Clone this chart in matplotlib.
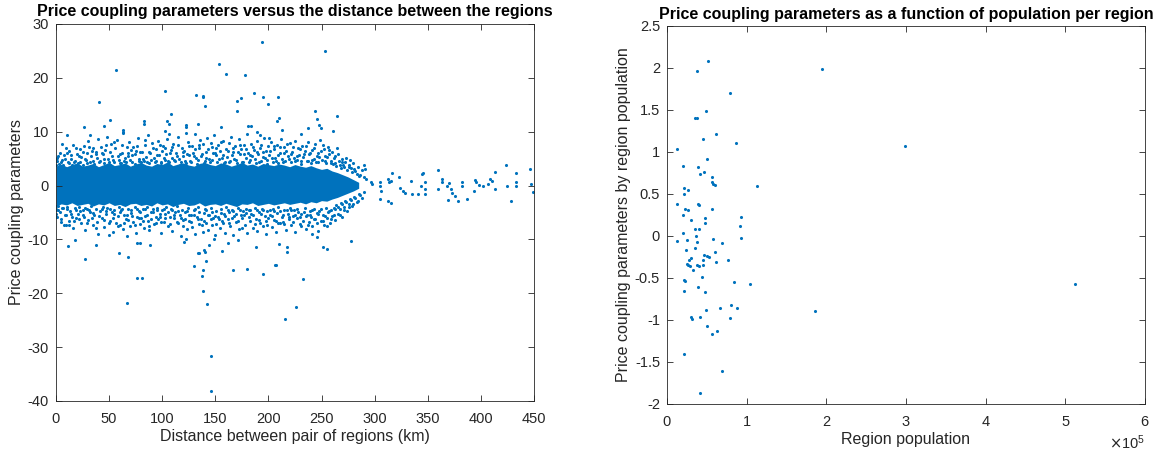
import numpy as np
import matplotlib.pyplot as plt
from matplotlib.ticker import FuncFormatter, ScalarFormatter

plt.rcParams['font.family'] = ['Liberation Sans', 'DejaVu Sans']
plt.rcParams['axes.unicode_minus'] = False

BLUE = '#0072BD'
GRID = '#262626'

# ---- left panel: distance vs coupling parameter ----
# dense core of the cloud (read as an envelope every 5 km)
core_x = [0, 5, 10, 15, 20, 25, 30, 35, 40, 45, 50, 55, 60, 65, 70, 75, 80, 85, 90, 95,
          100, 105, 110, 115, 120, 125, 130, 135, 140, 145, 150, 155, 160, 165, 170, 175,
          180, 185, 190, 195, 200, 205, 210, 215, 220, 225, 230, 235, 240, 245, 250, 255,
          260, 265, 270, 275, 280, 285]
core_hi = [3.6, 4.0, 3.5, 3.9, 4.2, 3.6, 3.8, 4.1, 3.5, 3.9,
           4.3, 3.7, 3.9, 4.2, 3.6, 4.0, 4.3, 3.8, 3.6, 4.1,
           3.9, 4.4, 3.7, 4.0, 4.2, 3.8, 3.6, 4.1, 4.3, 3.9,
           3.7, 4.2, 4.0, 3.6, 3.9, 4.3, 3.8, 4.0, 3.6, 4.1,
           3.9, 3.7, 4.0, 3.8, 3.5, 3.9, 3.6, 3.4, 3.7, 3.3,
           3.0, 3.2, 2.7, 2.4, 2.0, 1.6, 1.1, 0.6]
core_lo = [-3.8, -3.4, -3.6, -3.2, -3.7, -3.5, -3.3, -3.8, -3.4, -3.6,
           -3.2, -3.7, -3.5, -3.9, -3.4, -3.3, -3.7, -3.5, -3.8, -3.2,
           -3.6, -3.4, -3.9, -3.5, -3.3, -3.7, -3.6, -3.2, -3.8, -3.5,
           -3.4, -3.7, -3.3, -3.6, -3.9, -3.4, -3.5, -3.2, -3.7, -3.5,
           -3.3, -3.6, -3.4, -3.2, -3.5, -3.3, -3.1, -3.4, -3.0, -3.2,
           -2.8, -2.9, -2.5, -2.2, -1.8, -1.4, -1.0, -0.5]

upper_halo = [
    (0, 4.6), (0, 3.9), (0.3, 5.0), (1, 4.5), (1, 5.2), (2.5, 4.0), (4, 6.1), (5.5, 4.8), (7, 3.9), (8, 5.6),
    (9.5, 7.0), (11, 4.3), (12.5, 6.4), (14, 5.0), (15, 3.8), (16.5, 7.6), (18, 4.6), (19.5, 5.9),
    (21, 4.1), (22.5, 6.8), (24, 5.3), (25, 3.9), (26.5, 7.4), (28, 4.7), (29, 6.0), (30.5, 8.2), (32, 4.4),
    (33, 5.5), (34.5, 7.0), (36, 4.0), (37.5, 6.3), (39, 5.1), (40, 8.6),
    (41, 4.6), (42.5, 7.2), (44, 5.8), (45, 4.2), (46.5, 6.6), (48, 9.0), (49, 5.0), (50.5, 3.9), (52, 7.8),
    (53, 5.4), (54.5, 4.3), (56, 6.9), (57.5, 8.4), (59, 4.8), (60, 5.9),
    (61, 4.1), (62, 7.5), (63.5, 9.8), (65, 5.2), (66, 4.4), (67.5, 6.1), (69, 8.0), (70, 4.7), (71.5, 5.6),
    (73, 7.1), (74, 4.0), (75.5, 6.5), (77, 8.9), (78.5, 5.0), (80, 4.3),
    (81, 6.3), (82.5, 4.6), (84, 7.6), (85, 5.3), (86.5, 9.4), (88, 4.2), (89, 6.0), (90.5, 7.9), (92, 5.1),
    (93, 4.4), (94.5, 6.8), (96, 8.3), (97, 5.7), (98.5, 4.1), (100, 6.5),
    (101, 7.4), (102.5, 4.8), (104, 5.9), (105, 8.7), (106.5, 4.3), (108, 6.6), (109, 5.2), (110.5, 7.8),
    (112, 4.5), (113, 6.1), (114.5, 9.1), (116, 5.0), (117, 3.9), (118.5, 7.0), (120, 5.5),
    (121, 6.4), (122.5, 4.2), (124, 8.1), (125, 5.7), (126.5, 4.6), (128, 7.3), (129, 6.0), (130.5, 9.6),
    (132, 5.1), (133, 4.0), (134.5, 6.9), (136, 8.4), (137, 5.4), (138.5, 7.7), (140, 4.5),
    (141, 6.2), (142.5, 8.9), (144, 5.0), (145, 4.3), (146.5, 7.1), (148, 6.0), (149, 9.3), (150.5, 5.6),
    (152, 4.4), (153, 7.6), (154.5, 6.5), (156, 5.2), (157, 8.2), (158.5, 4.1), (160, 6.8),
    (161, 5.3), (162.5, 7.9), (164, 4.6), (165, 9.0), (166.5, 6.2), (168, 5.0), (169, 7.3), (170.5, 4.2),
    (172, 8.6), (173, 5.8), (174.5, 6.7), (176, 4.4), (177, 7.5), (178.5, 5.2), (180, 9.5),
    (181, 6.0), (182.5, 4.7), (184, 7.8), (185, 5.4), (186.5, 6.6), (188, 4.2), (189, 8.2), (190.5, 5.9),
    (192, 7.0), (193, 4.5), (194.5, 6.3), (196, 8.8), (197, 5.1), (198.5, 4.0), (200, 7.3),
    (201, 5.6), (202.5, 8.0), (204, 4.4), (205, 6.8), (206.5, 5.2), (208, 7.6), (209, 4.1), (210.5, 6.0),
    (212, 8.7), (213, 5.0), (214.5, 7.1), (216, 4.6), (217, 6.4), (218.5, 5.5), (220, 7.9),
    (221, 4.3), (222.5, 6.2), (224, 5.1), (225, 8.3), (226.5, 4.7), (228, 6.9), (229, 5.6), (230.5, 4.0),
    (232, 7.4), (233, 5.3), (234.5, 6.5), (236, 4.5), (237, 8.0), (238.5, 5.8), (240, 4.2),
    (241, 6.6), (242.5, 5.0), (244, 7.7), (245, 4.4), (246.5, 6.1), (248, 5.3), (249, 8.5), (250.5, 4.7),
    (252, 6.8), (253, 5.5), (254.5, 4.2), (256, 7.2), (257, 5.9), (258.5, 4.6), (260, 6.3),
    (261, 4.0), (262.5, 5.4), (264, 3.6), (265, 7.0), (266.5, 4.5), (268, 3.2), (269, 5.0), (270.5, 3.8),
    (272, 4.4), (274, 2.9), (275.5, 3.5), (277, 4.8), (279, 2.6), (281, 3.1), (283, 2.2), (285, 1.8),
]

upper_halo2 = [
    (2, 5.5), (4.5, 4.4), (6, 7.8), (8.5, 4.9), (10, 6.0), (12, 4.2), (14.5, 5.6), (17, 4.4), (19, 6.9),
    (21.5, 5.4), (23, 4.3), (25.5, 6.2), (27, 5.0), (29.5, 4.2), (31, 7.1), (33.5, 6.4), (35, 4.6), (38, 5.8),
    (40.5, 4.3), (43, 6.1), (45.5, 5.0), (47, 7.6), (49.5, 4.4), (51, 6.3), (53.5, 4.7), (55, 8.0), (58, 5.5),
    (60.5, 4.2), (62.5, 6.0), (64, 4.5), (66.5, 7.2), (68, 5.4), (70.5, 6.6), (72, 4.3), (74.5, 5.8), (76, 7.4),
    (78, 4.6), (79.5, 6.2), (82, 5.0), (83.5, 8.4), (86, 4.4), (87.5, 6.3), (89.5, 4.8), (91.5, 7.0), (94, 4.5),
    (95.5, 5.7), (97.5, 7.5), (99, 4.3), (101.5, 5.2), (103, 7.0), (105.5, 4.5), (107, 6.0), (109.5, 7.2),
    (111, 4.8), (113.5, 5.5), (115, 7.6), (117.5, 4.4), (119.5, 6.2), (121.5, 4.6), (123, 5.9), (125.5, 7.4),
    (127, 4.3), (129.5, 5.4), (131, 6.8), (133.5, 4.8), (135, 7.6), (137.5, 5.9), (139, 4.2), (141.5, 5.1),
    (143, 6.8), (145.5, 7.9), (147, 4.7), (149.5, 6.1), (151, 7.0), (153.5, 4.9), (155, 8.0), (157.5, 5.6),
    (159, 4.4), (161.5, 6.5), (163, 4.3), (165.5, 5.7), (167, 7.0), (169.5, 4.8), (171, 6.2), (173.5, 7.6),
    (175, 4.4), (177.5, 5.9), (179, 6.8), (181.5, 4.4), (183, 5.6), (185.5, 7.1), (187, 5.0), (189.5, 6.2),
    (191, 4.4), (193.5, 7.6), (195, 5.3), (197.5, 6.4), (199, 4.7), (201.5, 6.5), (203, 5.1), (205.5, 7.4),
    (207, 4.6), (209.5, 5.7), (211, 7.2), (213.5, 4.3), (215, 6.0), (217.5, 7.8), (219, 4.9), (221.5, 5.8),
    (223, 7.1), (225.5, 4.6), (227, 5.5), (229.5, 6.8), (231, 4.5), (233.5, 5.9), (235, 7.3), (237.5, 4.6),
    (239, 6.1), (241.5, 4.8), (243, 6.9), (245.5, 5.5), (247, 4.3), (249.5, 6.4), (251, 7.6), (253.5, 4.6),
    (255, 5.3), (257.5, 6.6), (259, 4.2), (261.5, 5.2), (263, 4.1), (265.5, 5.9), (267, 3.8), (269.5, 4.4),
    (271, 3.4), (273, 5.2), (276, 3.8), (278, 3.2), (280, 4.1), (282, 2.7), (284, 3.5), (286, 2.0),
    (288, 2.8), (290, 1.5),
]

lower_halo = [
    (0, -4.5), (0, -3.8), (0.3, -5.2), (0.5, -4.3), (1, -5.9), (2, -3.8), (3.5, -5.0), (5, -6.3), (6.5, -4.2),
    (8, -7.3), (9, -5.4), (10.5, -3.9), (12, -6.6), (13.5, -4.7), (15, -5.8), (16, -7.8), (17.5, -4.1), (19, -6.0),
    (20.5, -5.2), (22, -3.9), (23.5, -7.0), (25, -4.6), (26, -5.8), (27.5, -8.2), (29, -4.3), (30.5, -6.4),
    (32, -5.0), (33, -3.8), (34.5, -7.4), (36, -5.5), (37.5, -4.4), (39, -6.7), (40, -9.0),
    (41.5, -4.8), (43, -6.0), (44, -3.9), (45.5, -7.7), (47, -5.3), (48.5, -4.2), (50, -9.2), (51, -6.5),
    (52.5, -5.0), (54, -8.6), (55, -4.5), (56.5, -6.9), (58, -5.7), (59, -3.9), (60, -7.3),
    (61.5, -4.6), (63, -8.1), (64, -5.4), (65.5, -6.2), (67, -9.4), (68, -4.3), (69.5, -7.6), (71, -5.1),
    (72.5, -6.8), (74, -4.0), (75, -8.8), (76.5, -5.9), (78, -4.7), (79, -7.1), (80, -6.0),
    (81.5, -4.4), (83, -7.9), (84, -5.6), (85.5, -3.9), (87, -6.5), (88, -8.3), (89.5, -5.0), (91, -4.3),
    (92.5, -7.2), (94, -5.8), (95, -4.1), (96.5, -6.3), (98, -5.2), (99, -8.9), (100, -4.6),
    (101.5, -6.7), (103, -5.3), (104, -4.0), (105.5, -7.5), (107, -5.9), (108, -4.4), (109.5, -8.4),
    (111, -6.1), (112.5, -4.9), (114, -3.8), (115, -7.0), (116.5, -5.5), (118, -9.3), (119, -4.5), (120, -6.4),
    (121.5, -5.0), (123, -8.0), (124, -4.2), (125.5, -6.6), (127, -5.4), (128, -7.7), (129.5, -4.6),
    (131, -9.0), (132.5, -5.8), (134, -4.0), (135, -7.1), (136.5, -6.2), (138, -8.6), (139, -5.1), (140, -4.3),
    (141.5, -6.9), (143, -8.3), (144, -5.5), (145.5, -4.1), (147, -7.4), (148, -6.0), (149.5, -9.2),
    (151, -4.8), (152.5, -5.9), (154, -7.8), (155, -4.4), (156.5, -6.5), (158, -5.2), (159, -8.8), (160, -4.0),
    (161.5, -6.3), (163, -5.0), (164, -7.6), (165.5, -4.5), (167, -9.1), (168, -5.7), (169.5, -6.8),
    (171, -4.2), (172.5, -8.1), (174, -5.4), (175, -6.0), (176.5, -4.7), (178, -7.3), (179, -5.1), (180, -8.9),
    (181.5, -4.6), (183, -6.6), (184, -5.3), (185.5, -7.9), (187, -4.1), (188, -6.2), (189.5, -8.5),
    (191, -5.0), (192.5, -6.9), (194, -4.4), (195, -7.5), (196.5, -5.7), (198, -9.0), (199, -4.8), (200, -6.1),
    (201.5, -5.4), (203, -7.7), (204, -4.3), (205.5, -6.4), (207, -8.6), (208, -5.1), (209.5, -4.0),
    (211, -7.0), (212.5, -5.8), (214, -6.7), (215, -4.6), (216.5, -8.2), (218, -5.3), (219, -6.3), (220, -4.2),
    (221.5, -7.4), (223, -5.6), (224, -4.5), (225.5, -8.7), (227, -6.0), (228, -4.9), (229.5, -7.1),
    (231, -5.2), (232.5, -6.5), (234, -4.1), (235, -8.0), (236.5, -5.5), (238, -6.8), (239, -4.7), (240, -5.9),
    (241.5, -7.6), (243, -4.4), (244, -6.2), (245.5, -5.1), (247, -8.4), (248, -4.8), (249.5, -6.6),
    (251, -5.4), (252.5, -7.3), (254, -4.2), (255, -6.0), (256.5, -5.0), (258, -6.9), (259, -4.5), (260, -5.7),
    (261.5, -4.1), (263, -6.4), (264, -3.6), (265.5, -5.2), (267, -4.4), (268, -3.2), (269.5, -5.8),
    (271, -3.9), (272.5, -2.9), (274, -4.7), (275.5, -3.4), (277, -2.5), (279, -3.8), (281, -2.1),
    (283, -3.0), (285, -1.6),
]

lower_halo2 = [
    (2, -4.6), (4.5, -6.8), (6, -4.1), (8.5, -5.5), (10, -4.4), (12, -7.4), (14.5, -5.2), (17, -6.5), (19, -4.5),
    (21.5, -6.3), (23, -4.8), (25.5, -5.5), (27, -4.2), (29.5, -7.0), (31, -4.6), (33.5, -6.0), (35, -5.1),
    (38, -7.8), (40.5, -5.6), (43, -4.3), (45.5, -6.4), (47, -4.7), (49.5, -7.0), (51, -4.4), (53.5, -6.0),
    (55, -5.2), (58, -7.5), (60.5, -5.0), (62.5, -4.4), (64, -7.0), (66.5, -5.5), (68, -6.4), (70.5, -4.5),
    (72, -5.7), (74.5, -7.3), (76, -4.4), (78, -6.1), (79.5, -5.0), (82, -6.6), (83.5, -4.3), (86, -5.5),
    (87.5, -7.5), (89.5, -6.2), (91.5, -5.0), (94, -6.9), (95.5, -4.6), (97.5, -5.8), (99, -6.7), (101.5, -4.4),
    (103, -6.0), (105.5, -5.0), (107, -7.2), (109.5, -4.6), (111, -5.5), (113.5, -6.8), (115, -4.7),
    (117.5, -6.0), (119.5, -7.6), (121.5, -6.3), (123, -4.7), (125.5, -5.4), (127, -6.8), (129.5, -5.5),
    (131, -4.4), (133.5, -6.3), (135, -5.0), (137.5, -7.4), (139, -6.6), (141.5, -4.5), (143, -5.4),
    (145.5, -6.3), (147, -4.9), (149.5, -5.6), (151, -7.2), (153.5, -6.2), (155, -5.1), (157.5, -6.9),
    (159, -5.6), (161.5, -4.5), (163, -7.0), (165.5, -6.1), (167, -4.8), (169.5, -5.3), (171, -6.6),
    (173.5, -4.6), (175, -7.8), (177.5, -5.4), (179, -4.4), (181.5, -5.9), (183, -4.6), (185.5, -5.4),
    (187, -7.2), (189.5, -4.6), (191, -6.4), (193.5, -5.3), (195, -4.5), (197.5, -6.6), (199, -7.4),
    (201.5, -4.5), (203, -5.6), (205.5, -4.8), (207, -6.5), (209.5, -7.0), (211, -4.8), (213.5, -5.4),
    (215, -7.1), (217.5, -4.6), (219, -5.9), (221.5, -4.6), (223, -6.8), (225.5, -5.5), (227, -4.4),
    (229.5, -5.8), (231, -7.6), (233.5, -4.9), (235, -5.7), (237.5, -7.3), (239, -5.4), (241.5, -4.5),
    (243, -6.3), (245.5, -7.0), (247, -5.3), (249.5, -4.4), (251, -6.5), (253.5, -5.6), (255, -7.5),
    (257.5, -4.7), (259, -6.2), (261.5, -5.4), (263, -4.4), (265.5, -3.9), (267, -5.5), (269.5, -3.5),
    (271, -4.6), (273, -3.1), (276, -3.9), (278, -2.7), (280, -3.4), (282, -2.4), (284, -2.9), (286, -1.8),
    (288, -2.3), (290, -1.2),
]

upper_out = [
    (194.3, 26.6), (252.9, 25.0), (153.1, 22.5), (56.9, 21.4), (159.7, 20.7), (177.9, 20.6),
    (102.5, 17.6), (186.3, 17.1), (132.2, 16.9), (138.1, 16.7), (138.8, 16.4), (195.0, 16.4),
    (209.0, 16.4), (174.0, 16.2), (170.5, 15.7), (40.1, 15.6), (199.2, 15.2), (140.2, 14.7),
    (170.2, 13.9), (243.5, 13.8), (264.4, 13.0), (108.1, 13.3), (245.5, 12.4), (210.0, 12.5),
    (208.2, 11.9), (50.6, 12.1), (83.0, 11.9), (83.0, 11.5), (122.0, 11.3), (122.0, 10.8),
    (134.0, 11.5), (105.0, 11.9), (106.4, 11.4), (155.2, 10.8), (26.2, 10.8), (45.0, 11.0),
    (181.0, 11.1), (184.0, 11.1), (248.0, 11.3), (249.4, 10.6), (102.5, 10.1), (106.4, 9.6),
    (213.0, 10.4), (261.0, 10.1), (237.0, 10.6), (189.4, 9.9), (191.8, 9.4), (200.6, 8.9),
    (231.0, 9.6), (62.8, 10.3), (62.8, 9.9), (10.5, 9.3), (32.0, 9.3), (122.8, 9.8),
]

lower_out = [
    (0.0, -5.9), (9.0, -7.3), (11.2, -11.3), (18.1, -10.2), (26.9, -13.6), (59.3, -12.6),
    (68.0, -13.2), (67.3, -21.8), (76.0, -17.1), (81.0, -17.1), (76.4, -10.6), (79.5, -10.6),
    (89.0, -11.0), (130.4, -15.0), (138.1, -15.6), (137.8, -16.7), (133.5, -12.6), (135.0, -12.6),
    (139.5, -12.0), (140.6, -12.4), (141.3, -14.0), (138.1, -19.5), (142.0, -21.9), (146.1, -31.6),
    (145.8, -38.1), (156.6, -12.1), (167.0, -15.7), (180.3, -15.5), (195.0, -16.5), (206.0, -14.7),
    (207.5, -14.7), (217.3, -11.5), (217.3, -12.4), (216.0, -24.7), (226.0, -22.6), (232.6, -17.3),
    (210.3, -10.9), (241.4, -9.0), (246.0, -9.5), (251.8, -11.5), (255.0, -11.7), (277.6, -10.3),
    (188.3, -11.5), (149.0, -9.9), (144.4, -11.1), (121.0, -10.4), (122.0, -9.9), (37.3, -11.0),
    (161.8, -10.7), (171.3, -10.1),
]

tail = [
    (290.2, 3.8), (291.2, 3.0), (291.9, 1.2), (296.5, 0.6), (297.2, 0.2), (304.8, 0.7), (305.2, -0.1),
    (305.9, -1.0), (304.8, -2.5), (312.2, 1.2), (313.6, 0.7), (315.7, 0.9), (312.2, -2.8), (315.7, -3.3),
    (316.4, 2.4), (323.3, 1.5), (324.0, -0.4), (326.8, -1.0), (328.6, -1.3), (333.8, 0.9), (334.8, -1.5),
    (340.8, -1.5), (343.6, -0.1), (344.3, 2.1), (346.0, 2.4), (347.1, 0.6), (347.1, -0.6), (347.1, -1.5),
    (359.3, 2.9), (360.0, -0.7), (363.4, 1.2), (363.4, 0.6), (368.0, -0.1), (368.7, -2.7), (370.4, 0.4),
    (372.2, -0.7), (372.9, -1.3), (375.7, -2.0), (378.1, -2.8), (381.9, 0.7), (382.6, -0.1), (386.8, -2.5),
    (393.1, -1.0), (394.8, 1.0), (395.5, 0.6), (398.3, 0.1), (401.8, -0.1), (406.3, 0.2), (408.8, 1.3),
    (410.5, 0.9), (413.3, 2.5), (413.3, -0.7), (423.8, 3.8), (424.5, -0.1), (428.0, -2.9), (433.2, 2.3),
    (433.2, 0.6), (433.2, -0.1), (446.5, 3.0), (447.2, 0.2), (448.9, -1.2),
]

# ---- right panel: population vs coupling parameter ----
pop = [51200, 37700, 194700, 79600, 48900, 34900, 37300, 61900, 45600, 86600, 298600, 12600,
       50800, 20000, 39100, 46600, 41500, 55900, 55900, 58200, 60100, 113600, 21000, 26500,
       21400, 38700, 40000, 12100, 22800, 26100, 56400, 20000, 93200, 47500, 30700, 47500,
       91800, 34900, 39600, 20000, 36800, 93200, 12100, 25600, 58200, 38200, 68500, 34900,
       23800, 60100, 47000, 50300, 53100, 30300, 27900, 45200, 76400, 61900, 25100, 26500,
       28400, 37300, 39600, 44700, 33100, 43800, 83800, 104300, 21400, 22400, 39100, 512300,
       47500, 21900, 80100, 87600, 66600, 48900, 186300, 30700, 31700, 41500, 79600, 49800,
       62400, 55900, 21400, 68500, 41900]
coef = [2.08, 1.96, 1.99, 1.70, 1.49, 1.40, 1.40, 1.22, 1.15, 1.11, 1.07, 1.03,
        0.92, 0.83, 0.82, 0.76, 0.74, 0.70, 0.64, 0.62, 0.61, 0.59, 0.57, 0.55,
        0.50, 0.38, 0.37, 0.38, 0.32, 0.31, 0.32, 0.25, 0.23, 0.22, 0.19, 0.16,
        0.12, 0.08, 0.08, 0.04, 0.00, -0.02, -0.06, -0.05, -0.04, -0.07, -0.08, -0.14,
        -0.17, -0.19, -0.23, -0.24, -0.25, -0.26, -0.29, -0.29, -0.29, -0.31, -0.33, -0.35,
        -0.36, -0.35, -0.36, -0.35, -0.41, -0.49, -0.55, -0.57, -0.52, -0.54, -0.61, -0.57,
        -0.67, -0.66, -0.82, -0.86, -0.86, -0.88, -0.89, -0.97, -0.99, -0.96, -0.98, -1.07,
        -1.13, -1.17, -1.40, -1.61, -1.87]

fig = plt.figure(figsize=(11.61, 4.55), dpi=100)
ax1 = fig.add_axes([0.0482, 0.1187, 0.4117, 0.8286])
ax2 = fig.add_axes([0.5745, 0.1121, 0.4117, 0.8308])


def style(ax):
    for s in ax.spines.values():
        s.set_color(GRID)
        s.set_linewidth(0.6)
    ax.tick_params(direction='in', length=4, width=0.6, color=GRID, labelcolor=GRID,
                   labelsize=10.5, top=True, right=True)
    ax.tick_params(axis='x', pad=8)
    ax.tick_params(axis='y', pad=5)


ax1.fill_between(core_x, core_lo, core_hi, color=BLUE, lw=0)
for pts in (upper_halo, upper_halo2, lower_halo, lower_halo2, upper_out, lower_out, tail):
    arr = np.array(pts)
    ax1.scatter(arr[:, 0], arr[:, 1], s=5, color=BLUE, lw=0)
ax1.set_xlim(0, 450)
ax1.set_ylim(-40, 30)
ax1.set_xticks(np.arange(0, 451, 50))
ax1.set_yticks(np.arange(-40, 31, 10))
style(ax1)
ax1.set_title('Price coupling parameters versus the distance between the regions',
              fontsize=11.5, fontweight='bold', pad=6)
ax1.set_xlabel('Distance between pair of regions (km)', fontsize=11.5, color=GRID, labelpad=2)
ax1.set_ylabel('Price coupling parameters', fontsize=11.5, color=GRID, labelpad=3)

ax2.scatter(pop, coef, s=5, color=BLUE, lw=0)
ax2.set_xlim(0, 600000)
ax2.set_ylim(-2, 2.5)
ax2.set_xticks(np.arange(0, 600001, 100000))
ax2.set_yticks(np.arange(-2, 2.51, 0.5))
fmt = ScalarFormatter(useMathText=True)
fmt.set_powerlimits((0, 0))
ax2.xaxis.set_major_formatter(fmt)
ax2.yaxis.set_major_formatter(FuncFormatter(lambda v, p: '%g' % v))
style(ax2)
ax2.xaxis.get_offset_text().set_fontsize(10.5)
ax2.xaxis.get_offset_text().set_color(GRID)
ax2.set_title('Price coupling parameters as a function of population per region',
              fontsize=11.5, fontweight='bold', pad=5)
ax2.set_xlabel('Region population', fontsize=11.5, color=GRID, labelpad=2)
ax2.set_ylabel('Price coupling parameters by region population', fontsize=11.5, color=GRID, labelpad=3)

fig.savefig('out.png', dpi=100)
